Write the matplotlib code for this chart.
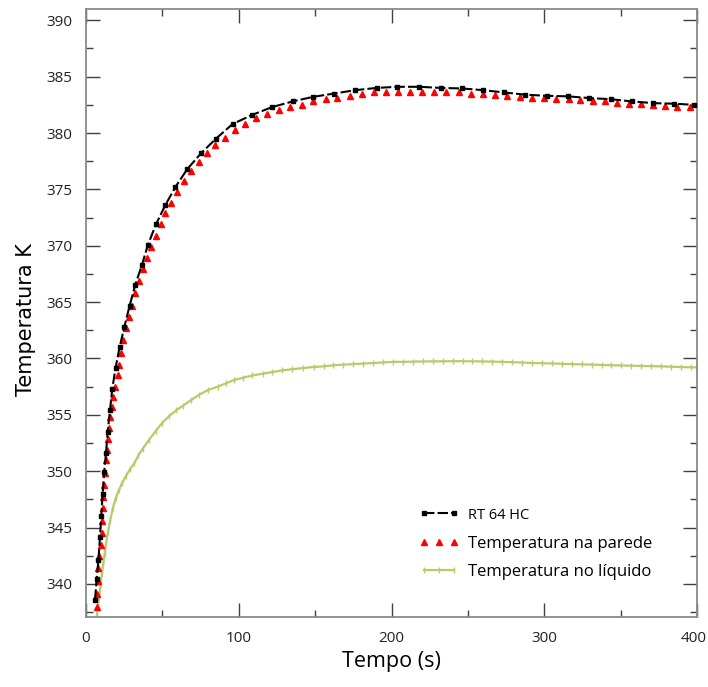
import matplotlib
matplotlib.use("Agg")
import matplotlib.pyplot as plt
import matplotlib.transforms as mtransforms
from matplotlib.ticker import MultipleLocator
from matplotlib.legend_handler import HandlerLine2D

# ---- data ----
t_rt = [5.9, 7.0, 8.1, 9.2, 10.0, 10.9, 11.9, 13.1, 14.2, 15.7, 17.2, 19.4, 22.0,
        25.1, 28.6, 32.2, 36.6, 40.6, 45.8, 51.9, 58.5, 66.3, 75.3, 85.1, 96.0,
        108.7, 121.8, 135.3, 148.4, 162.4, 176.3, 190.3, 203.8, 218.2, 232.2,
        246.2, 260.1, 273.6, 287.6, 301.6, 315.6, 329.5, 343.5, 357.5, 371.4,
        385.0, 398.0]
T_rt = [338.6, 340.4, 342.1, 344.2, 346.0, 348.0, 349.9, 351.6, 353.5, 355.4, 357.3,
        359.2, 361.0, 362.8, 364.7, 366.5, 368.3, 370.1, 371.9, 373.6, 375.2, 376.8,
        378.2, 379.5, 380.8, 381.6, 382.3, 382.8, 383.2, 383.5, 383.8, 384.0, 384.1,
        384.1, 384.0, 383.95, 383.8, 383.6, 383.4, 383.3, 383.25, 383.1, 383.0,
        382.8, 382.65, 382.6, 382.5]

t_wall = [7.0, 7.4, 7.8, 8.1, 8.7, 9.6, 10.3, 10.6, 10.9, 11.3, 11.8, 12.4, 13.1,
          13.5, 14.2, 15.3, 15.7, 16.8, 17.9, 19.0, 20.7, 21.8, 22.9, 24.2, 26.2,
          27.9, 30.0, 32.2, 34.4, 37.0, 39.7, 42.8, 45.8, 48.9, 51.9, 55.9, 59.8,
          64.2, 69.0, 73.8, 79.0, 84.6, 90.8, 97.3, 103.9, 111.3, 118.7, 126.1,
          133.5, 141.2, 148.8, 156.9, 164.5, 172.8, 180.7, 188.5, 196.4, 204.3,
          212.1, 220.0, 228.0, 236.0, 244.0, 252.0, 259.7, 267.7, 275.8, 283.8,
          291.8, 299.8, 307.8, 316.0, 323.5, 331.7, 339.5, 347.4, 355.5, 363.1,
          371.4, 379.3, 387.1, 395.4]
T_wall = [338.0, 339.1, 340.3, 341.4, 342.5, 343.5, 344.5, 345.6, 346.7, 347.7,
          348.8, 349.8, 351.0, 351.9, 352.9, 353.8, 354.8, 355.7, 356.6, 357.5,
          358.5, 359.4, 360.5, 361.6, 362.7, 363.7, 364.7, 365.8, 366.9, 367.9,
          368.9, 369.9, 370.9, 371.9, 372.9, 373.8, 374.8, 375.7, 376.6, 377.4,
          378.2, 378.9, 379.6, 380.3, 380.8, 381.3, 381.7, 382.0, 382.3, 382.5,
          382.8, 383.0, 383.1, 383.3, 383.5, 383.6, 383.6, 383.65, 383.65, 383.65,
          383.65, 383.6, 383.6, 383.5, 383.5, 383.4, 383.25, 383.2, 383.1, 383.1,
          383.05, 383.0, 382.9, 382.8, 382.8, 382.7, 382.6, 382.6, 382.5, 382.4,
          382.3, 382.3]

t_liq = [7.0, 7.8, 8.7, 9.6, 10.5, 11.4, 12.2, 13.3, 14.4, 15.9, 17.5, 19.4, 21.4,
         23.8, 26.2, 28.9, 31.6, 34.3, 37.1, 41.4, 45.8, 50.0, 54.5, 59.0, 63.3,
         68.7, 74.2, 80.0, 86.2, 91.6, 97.1, 103.0, 109.0, 115.6, 122.0, 128.6,
         135.0, 142.0, 149.0, 155.5, 162.0, 168.5, 175.0, 181.5, 188.0, 194.5,
         201.0, 207.5, 214.0, 220.5, 227.0, 233.5, 240.0, 246.5, 253.0, 259.5,
         266.0, 272.5, 279.0, 285.5, 292.0, 298.5, 305.0, 311.5, 318.0, 324.5,
         331.0, 337.5, 344.0, 350.5, 357.0, 363.5, 370.0, 376.5, 383.0, 389.5,
         396.0, 400.0]
T_liq = [337.1, 338.0, 338.9, 340.0, 341.0, 341.9, 342.7, 343.7, 344.6, 345.7,
         346.7, 347.6, 348.3, 349.0, 349.6, 350.2, 350.7, 351.4, 352.0, 352.8,
         353.6, 354.3, 354.9, 355.4, 355.8, 356.3, 356.8, 357.2, 357.5, 357.8,
         358.1, 358.3, 358.5, 358.65, 358.8, 358.95, 359.05, 359.15, 359.25,
         359.3, 359.4, 359.45, 359.5, 359.55, 359.6, 359.65, 359.7, 359.7, 359.72,
         359.74, 359.75, 359.75, 359.76, 359.76, 359.75, 359.74, 359.72, 359.7,
         359.67, 359.64, 359.6, 359.58, 359.56, 359.53, 359.5, 359.48, 359.46,
         359.43, 359.4, 359.38, 359.36, 359.34, 359.32, 359.3, 359.27, 359.24,
         359.22, 359.2]

labels = ["RT 64 HC", "Temperatura na parede", "Temperatura no líquido"]
x_ticks = [0, 100, 200, 300, 400]
y_ticks = [340, 345, 350, 355, 360, 365, 370, 375, 380, 385, 390]

# ---- figure ----
fig = plt.figure(figsize=(7.08, 6.87), dpi=100)
ax = fig.add_axes([86/708, 1-617/687, 611/708, 608/687])

font = ["Open Sans", "DejaVu Sans"]

l_liq, = ax.plot(t_liq, T_liq, color="#b5cc6a", lw=1.6, marker="|", ms=4, mew=1.0,
                 label=labels[2], zorder=2)
l_wall, = ax.plot(t_wall, T_wall, linestyle="none", marker="^", ms=4.6,
                  color="#ff0000", mec="#ff0000", label=labels[1], zorder=3)
l_rt, = ax.plot(t_rt, T_rt, color="black", lw=1.5, ls=(0, (5, 1.5)), marker="s",
                ms=3.2, label=labels[0], zorder=4)

ax.set_xlim(0, 400)
ax.set_ylim(337.07, 391.0)
ax.set_xticks(x_ticks)
ax.set_yticks(y_ticks)
ax.xaxis.set_minor_locator(MultipleLocator(50))
ax.yaxis.set_minor_locator(MultipleLocator(2.5))
ax.tick_params(which="both", direction="in", top=True, right=True,
               color="#404040", width=1)
ax.tick_params(which="major", length=10)
ax.tick_params(which="minor", length=5)
ax.tick_params(axis="both", which="major", labelsize=11, pad=10,
               labelcolor="#222222")
for lab in ax.get_xticklabels() + ax.get_yticklabels():
    lab.set_family(font)
# keep the last x tick label inside the figure
last = ax.get_xticklabels()[-1]
last.set_transform(last.get_transform() +
                   mtransforms.ScaledTranslation(-3/100, 0, fig.dpi_scale_trans))
for s in ax.spines.values():
    s.set_color("#8a8a8a")
    s.set_linewidth(1.3)

ax.set_xlabel("Tempo (s)", fontsize=15.5, family=font, labelpad=4)
ax.set_ylabel("Temperatura K", fontsize=15,
              family=["Liberation Sans Narrow", "DejaVu Sans"])
ax.yaxis.set_label_coords(-0.082, 0.49)

leg = ax.legend([l_rt, l_wall, l_liq], labels,
                loc="upper left", bbox_to_anchor=(0.52, 0.205), frameon=False,
                handlelength=2.4, handletextpad=0.55, labelspacing=0.75,
                handler_map={l_wall: HandlerLine2D(numpoints=3),
                             l_rt: HandlerLine2D(numpoints=2),
                             l_liq: HandlerLine2D(numpoints=3)},
                prop={"family": font, "size": 12})
leg.get_texts()[0].set_fontsize(10.5)

fig.savefig("out.png", dpi=100)
